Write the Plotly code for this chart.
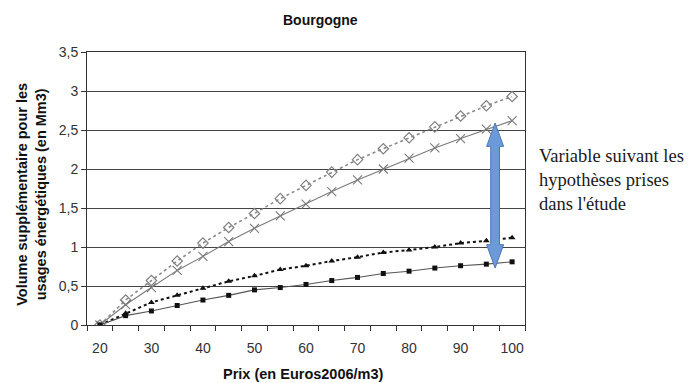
import plotly.graph_objects as go

# prix (Euros2006/m3)
prix = [20, 25, 30, 35, 40, 45, 50, 55, 60, 65, 70, 75, 80, 85, 90, 95, 100]

# volumes supplémentaires (Mm3), 4 scénarios
vol_losanges = [0, 0.32, 0.57, 0.82, 1.05, 1.25, 1.43, 1.62, 1.79, 1.96, 2.12, 2.26, 2.40, 2.54, 2.68, 2.81, 2.93]
vol_croix = [0, 0.26, 0.48, 0.70, 0.88, 1.07, 1.24, 1.40, 1.55, 1.71, 1.86, 2.00, 2.14, 2.27, 2.39, 2.51, 2.62]
vol_triangles = [0, 0.15, 0.29, 0.38, 0.47, 0.56, 0.63, 0.71, 0.76, 0.82, 0.87, 0.93, 0.96, 1.00, 1.05, 1.08, 1.12]
vol_carres = [0, 0.12, 0.18, 0.25, 0.32, 0.38, 0.45, 0.48, 0.52, 0.57, 0.61, 0.66, 0.69, 0.73, 0.76, 0.78, 0.81]

# flèche "variable suivant les hypothèses"
fleche_x = 96.7
fleche_haut, fleche_bas = 2.59, 0.73
tete = 0.30          # hauteur de la pointe (unités y)
demi_tige, demi_tete = 0.85, 1.65   # demi-largeurs (unités x)

FONT = "Liberation Sans, Arial, sans-serif"

fig = go.Figure()

fig.add_trace(go.Scatter(x=prix, y=vol_losanges, mode='lines+markers',
                         line=dict(color='#8a8a8a', width=1.6, dash='dot'),
                         marker=dict(symbol='diamond-open', size=8, color='#808080',
                                     line=dict(width=1.2, color='#808080'))))
fig.add_trace(go.Scatter(x=prix, y=vol_croix, mode='lines+markers',
                         line=dict(color='#7a7a7a', width=1.1),
                         marker=dict(symbol='x-thin-open', size=9,
                                     line=dict(width=1.1, color='#6a6a6a'))))
fig.add_trace(go.Scatter(x=prix, y=vol_triangles, mode='lines+markers',
                         line=dict(color='#111111', width=2, dash='dot'),
                         marker=dict(symbol='triangle-up', size=6, color='#111111')))
fig.add_trace(go.Scatter(x=prix, y=vol_carres, mode='lines+markers',
                         line=dict(color='#555555', width=1.1),
                         marker=dict(symbol='square', size=5, color='#111111')))

# double flèche bleue
xl, xr = fleche_x - demi_tige, fleche_x + demi_tige
hl, hr = fleche_x - demi_tete, fleche_x + demi_tete
path = (f"M {fleche_x},{fleche_haut} L {hr},{fleche_haut - tete} L {xr},{fleche_haut - tete} "
        f"L {xr},{fleche_bas + tete} L {hr},{fleche_bas + tete} L {fleche_x},{fleche_bas} "
        f"L {hl},{fleche_bas + tete} L {xl},{fleche_bas + tete} L {xl},{fleche_haut - tete} "
        f"L {hl},{fleche_haut - tete} Z")
fig.add_shape(type='path', path=path, xref='x', yref='y',
              fillcolor='#6b9ad6', line=dict(color='#4a78b8', width=1))

fig.add_annotation(text="Variable suivant les<br>hypothèses prises<br>dans l'étude",
                   xref='paper', yref='paper', x=1.027, y=0.53,
                   xanchor='left', yanchor='middle', align='left', showarrow=False,
                   font=dict(family="Liberation Serif, Times New Roman, serif", size=18.5, color='#1a1a1a'))

# titres
fig.add_annotation(text="<b>Bourgogne</b>", xref='paper', yref='paper', x=0.532, y=1.117,
                   xanchor='center', yanchor='middle', showarrow=False,
                   font=dict(family=FONT, size=14, color='#111111'))
fig.add_annotation(text="<b>Prix (en Euros2006/m3)</b>", xref='paper', yref='paper', x=0.495, y=-0.178,
                   xanchor='center', yanchor='middle', showarrow=False,
                   font=dict(family=FONT, size=14.5, color='#111111'))
fig.add_annotation(text="<b>Volume supplémentaire pour les<br>usages énergétiques (en Mm3)</b>",
                   xref='paper', yref='paper', x=-0.126, y=0.48, textangle=-90,
                   xanchor='center', yanchor='middle', showarrow=False,
                   font=dict(family=FONT, size=14.5, color='#111111'))

fig.update_layout(
    width=693, height=383,
    margin=dict(l=87, r=168, t=52, b=58),
    paper_bgcolor='white', plot_bgcolor='white',
    showlegend=False,
    separators=', ',
    font=dict(family=FONT, size=13, color='#333333'),
)

fig.update_xaxes(range=[17.5, 102.5], tickvals=[20, 30, 40, 50, 60, 70, 80, 90, 100],
                 ticks='', showgrid=False, zeroline=False, automargin=False,
                 showline=True, linecolor='#333333', linewidth=1, mirror=True,
                 ticklabelstandoff=10,
                 minor=dict(tick0=17.5, dtick=5, ticks='outside', ticklen=5,
                            tickcolor='#333333', showgrid=False),
                 tickfont=dict(size=14, color='#333333'))

fig.update_yaxes(range=[0, 3.5], dtick=0.5, tickformat='~r', automargin=False,
                 ticks='outside', ticklen=5, tickcolor='#333333',
                 showgrid=True, gridcolor='#444444', gridwidth=1, zeroline=False,
                 showline=True, linecolor='#333333', linewidth=1, mirror=True,
                 tickfont=dict(size=14, color='#333333'))

# la page ne doit pas décaler la figure
fig.write_html("out.html", config={'displayModeBar': False},
               post_script="document.body.style.margin='0px';")
